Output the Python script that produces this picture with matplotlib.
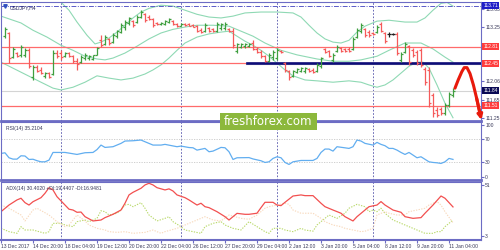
import matplotlib
matplotlib.use("Agg")
import matplotlib.pyplot as plt
import matplotlib.transforms as mtransforms
from matplotlib.patches import Rectangle

plt.rcParams["font.family"] = ["Liberation Sans Narrow", "Liberation Sans", "DejaVu Sans"]

symbol = "USDJPY,H4"

# H4 bars, index 0 = first bar on screen
opens = [113.04, 113.10, 112.58, 112.67, 112.62, 112.62, 112.73, 112.14, 112.36, 112.30,
         112.17, 112.23, 112.21, 112.67, 112.67, 112.60, 112.67, 112.60, 112.49, 112.47,
         112.56, 112.56, 112.54, 112.63, 112.95, 112.87, 112.98, 112.91, 113.04, 113.13,
         113.24, 113.33, 113.37, 113.35, 113.46, 113.52, 113.46, 113.41, 113.33, 113.30,
         113.30, 113.35, 113.37, 113.30, 113.26, 113.31, 113.30, 113.28, 113.26, 113.17,
         113.15, 113.22, 113.19, 113.15, 113.22, 113.22, 113.20, 113.15, 112.71, 112.80,
         112.82, 112.82, 112.89, 112.76, 112.69, 112.60, 112.49, 112.58, 112.56, 112.71,
         112.45, 112.27, 112.17, 112.25, 112.27, 112.27, 112.32, 112.30, 112.27, 112.38,
         112.76, 112.71, 112.52, 112.71, 112.78, 112.76, 112.76, 112.76, 113.02, 113.15,
         113.19, 113.13, 113.11, 113.13, 113.31, 113.11, 113.08, 113.09, 113.09, 112.52,
         112.69, 112.82, 112.73, 112.69, 112.73, 112.32, 112.30, 111.75, 111.42, 111.44,
         111.35, 111.53, 111.75]
highs = [113.24, 113.13, 112.80, 112.69, 112.84, 112.78, 112.78, 112.41, 112.41, 112.36,
         112.25, 112.25, 112.73, 112.73, 112.73, 112.69, 112.69, 112.63, 112.56, 112.63,
         112.67, 112.63, 112.63, 112.80, 113.06, 113.06, 113.00, 113.11, 113.17, 113.33,
         113.39, 113.46, 113.39, 113.50, 113.61, 113.55, 113.50, 113.44, 113.35, 113.35,
         113.39, 113.44, 113.39, 113.33, 113.33, 113.33, 113.33, 113.30, 113.28, 113.22,
         113.33, 113.24, 113.22, 113.35, 113.33, 113.35, 113.22, 113.22, 112.89, 112.89,
         112.89, 112.89, 112.95, 112.80, 112.73, 112.63, 112.67, 112.73, 112.78, 112.73,
         112.47, 112.30, 112.30, 112.34, 112.36, 112.36, 112.34, 112.34, 112.45, 112.58,
         112.78, 112.73, 112.67, 112.84, 112.80, 112.78, 112.80, 113.02, 113.22, 113.33,
         113.22, 113.17, 113.13, 113.28, 113.35, 113.13, 113.13, 113.11, 113.13, 112.69,
         112.91, 112.84, 112.78, 112.73, 112.78, 112.36, 112.36, 111.79, 111.49, 111.49,
         111.57, 111.81, 111.90]
lows = [113.00, 112.45, 112.56, 112.58, 112.58, 112.58, 112.34, 112.08, 112.25, 112.21,
        112.12, 112.12, 112.19, 112.56, 112.52, 112.58, 112.58, 112.45, 112.30, 112.45,
        112.52, 112.52, 112.52, 112.63, 112.80, 112.84, 112.84, 112.89, 113.00, 113.11,
        113.17, 113.28, 113.24, 113.33, 113.44, 113.35, 113.39, 113.24, 113.28, 113.28,
        113.28, 113.33, 113.28, 113.24, 113.26, 113.26, 113.26, 113.24, 113.13, 113.11,
        113.13, 113.13, 113.13, 113.13, 113.17, 113.17, 113.13, 112.78, 112.67, 112.78,
        112.78, 112.80, 112.73, 112.67, 112.56, 112.47, 112.47, 112.52, 112.52, 112.67,
        112.25, 112.08, 112.14, 112.23, 112.25, 112.23, 112.25, 112.23, 112.25, 112.34,
        112.67, 112.58, 112.47, 112.69, 112.69, 112.69, 112.69, 112.73, 113.00, 113.11,
        113.02, 113.02, 113.06, 113.11, 113.13, 112.89, 113.02, 113.06, 112.63, 112.47,
        112.67, 112.41, 112.58, 112.41, 112.36, 111.97, 111.49, 111.27, 111.27, 111.31,
        111.31, 111.49, 111.71]
closes = [113.20, 112.56, 112.76, 112.60, 112.80, 112.73, 112.38, 112.36, 112.28, 112.23,
          112.23, 112.14, 112.67, 112.60, 112.58, 112.67, 112.60, 112.49, 112.43, 112.58,
          112.63, 112.60, 112.63, 112.78, 112.84, 113.02, 112.89, 113.06, 113.15, 113.28,
          113.35, 113.44, 113.28, 113.46, 113.57, 113.39, 113.41, 113.28, 113.30, 113.33,
          113.37, 113.41, 113.30, 113.26, 113.31, 113.28, 113.27, 113.25, 113.15, 113.13,
          113.28, 113.15, 113.15, 113.30, 113.30, 113.31, 113.15, 112.84, 112.87, 112.87,
          112.87, 112.87, 112.76, 112.69, 112.60, 112.49, 112.63, 112.69, 112.73, 112.69,
          112.30, 112.14, 112.27, 112.32, 112.34, 112.34, 112.27, 112.25, 112.41, 112.56,
          112.69, 112.60, 112.63, 112.80, 112.71, 112.71, 112.71, 112.98, 113.17, 113.28,
          113.06, 113.06, 113.09, 113.24, 113.15, 112.93, 113.08, 113.09, 112.67, 112.65,
          112.87, 112.47, 112.63, 112.45, 112.41, 112.03, 111.57, 111.35, 111.31, 111.35,
          111.53, 111.77, 111.84]

# Bollinger bands
bb_upper_x = [-1, 9, 13.5, 16, 18, 20.5, 22.5, 24, 26, 28, 30, 32, 34, 36, 39, 42, 45, 48,
              51, 54, 57, 60, 64, 68, 72, 74, 76, 78, 80, 82, 84, 86, 88, 90, 93, 96, 100,
              103, 105, 107, 109, 110.5, 112]
bb_upper = [114.48, 114.00, 113.83, 113.61, 113.35, 113.06, 112.87, 112.91, 113.00, 113.13,
            113.28, 113.44, 113.57, 113.65, 113.72, 113.70, 113.61, 113.52, 113.46, 113.44,
            113.48, 113.55, 113.57, 113.57, 113.55, 113.46, 113.28, 113.11, 112.98, 112.91,
            112.89, 112.95, 113.13, 113.26, 113.37, 113.39, 113.35, 113.35, 113.44, 113.61,
            113.76, 113.78, 113.70]
bb_mid_x = [-1, 4, 7, 10.5, 14, 17, 20, 23, 25, 27, 30, 33, 36, 39, 42, 45, 48, 52, 56, 59,
            62, 65, 69, 73, 78, 82, 86, 89, 93, 96, 100, 104, 107, 110, 112]
bb_mid = [113.48, 113.33, 113.17, 113.02, 112.84, 112.73, 112.60, 112.54, 112.52, 112.56,
          112.67, 112.82, 112.98, 113.11, 113.19, 113.24, 113.28, 113.28, 113.26, 113.15,
          113.04, 112.89, 112.73, 112.63, 112.54, 112.49, 112.49, 112.52, 112.60, 112.73,
          112.89, 112.89, 112.76, 112.58, 112.47]
bb_lower_x = [-1, 4, 9, 12, 14, 17, 20, 23, 26, 29, 32, 35, 37, 39, 41, 43, 45, 48, 51, 54,
              56, 58, 60, 62, 64, 66, 68, 70, 72, 75, 78, 82, 86, 89, 91, 93, 95, 97, 99,
              101, 103, 104.5, 106, 108, 110, 112]
bb_lower = [112.47, 112.25, 112.03, 111.90, 111.86, 111.92, 112.03, 112.17, 112.12, 112.08,
            112.12, 112.21, 112.30, 112.41, 112.56, 112.73, 112.89, 113.02, 113.09, 113.13,
            113.15, 113.04, 112.93, 112.84, 112.73, 112.60, 112.45, 112.30, 112.17, 112.08,
            112.06, 112.03, 112.06, 112.03, 111.97, 111.92, 111.97, 112.08, 112.23, 112.38,
            112.47, 112.47, 112.34, 111.97, 111.57, 111.25]

# RSI(14)
rsi_x = [-1, 0, 1, 2, 3, 4, 5, 6, 7, 8, 9, 10, 11, 12, 15, 16, 18, 20, 22, 23, 24, 25, 27,
         29, 30, 32, 34, 35, 37, 39, 40, 43, 44, 46, 47, 48, 50, 51, 52, 54, 55, 56, 57, 58,
         61, 62, 64, 65, 66, 67, 68, 69, 70, 71, 72, 74, 77, 78, 79, 80, 81, 82, 83, 85, 86,
         87, 88, 89, 90, 92, 93, 94, 95, 96, 97, 98, 99, 100, 101, 102, 103, 104, 106, 107,
         108, 109, 110, 111, 112]
rsi = [45.4, 46.5, 38.0, 35.7, 35.7, 41.4, 41.0, 35.1, 35.5, 33.0, 31.1, 31.1, 34.0, 47.1,
       47.1, 46.0, 43.7, 46.6, 47.1, 52.0, 59.7, 55.7, 56.9, 62.6, 66.6, 67.1, 68.3, 65.4,
       59.7, 59.7, 60.9, 56.9, 58.0, 55.5, 55.1, 51.1, 54.0, 48.3, 49.4, 55.7, 55.1, 48.3,
       35.1, 38.0, 38.3, 36.0, 32.9, 30.0, 31.1, 36.9, 39.7, 38.0, 30.0, 26.6, 31.1, 33.4,
       33.4, 36.9, 47.1, 52.9, 52.9, 49.4, 56.9, 55.0, 54.0, 56.9, 68.3, 66.6, 62.6, 59.7,
       64.3, 60.9, 58.6, 54.0, 54.0, 51.1, 47.1, 43.7, 47.1, 42.6, 38.0, 39.7, 31.1, 30.0,
       29.4, 28.3, 31.1, 36.9, 35.2]

# ADX(14) with +DI / -DI
adx_x = [-1, 1, 3, 4, 5, 6, 7, 9, 10, 11, 12, 13, 15, 16, 17, 18, 19, 20, 22, 24, 25, 27,
         29, 30, 31, 32, 34, 35, 36, 37, 38, 40, 41, 42, 43, 45, 46, 48, 49, 50, 51, 53, 55,
         56, 57, 58, 60, 61, 63, 64, 65, 67, 68, 69, 70, 72, 74, 75, 77, 79, 80, 82, 84, 85,
         87, 88, 90, 91, 93, 94, 95, 97, 99, 100, 102, 104, 105, 107, 109, 110, 112]
adx = [26.4, 32.0, 36.3, 37.7, 34.0, 32.0, 34.8, 38.2, 41.9, 46.6, 44.7, 39.0, 32.0, 28.5,
       27.8, 25.9, 26.1, 22.2, 18.6, 19.4, 21.4, 24.2, 27.8, 33.5, 40.5, 42.7, 46.1, 48.9,
       50.3, 48.9, 46.6, 44.7, 45.6, 43.8, 40.5, 38.2, 36.3, 32.0, 33.5, 30.6, 29.8, 26.4,
       22.2, 19.4, 22.2, 25.0, 24.2, 24.2, 25.1, 29.8, 34.3, 34.3, 32.0, 31.5, 34.3, 39.6,
       40.5, 39.9, 39.9, 33.5, 30.6, 27.8, 25.1, 22.2, 18.6, 22.2, 27.8, 30.6, 32.0, 34.9,
       32.0, 27.8, 25.9, 22.2, 20.8, 21.4, 25.1, 32.0, 39.6, 37.7, 30.4]
pdi_x = [-1, 1, 3, 4, 5, 7, 10, 11, 12, 14, 15, 17, 18, 20, 21, 23, 24, 25, 26, 28, 29, 30,
         31, 32, 34, 35, 36, 38, 40, 41, 42, 44, 45, 47, 49, 50, 52, 54, 55, 57, 59, 61, 63,
         65, 66, 67, 69, 70, 72, 74, 75, 77, 78, 80, 81, 83, 85, 86, 88, 90, 91, 92, 93, 94,
         95, 97, 99, 100, 102, 104, 105, 107, 108, 109, 110, 112]
pdi = [12.4, 9.6, 8.2, 13.8, 11.0, 11.0, 8.2, 9.6, 16.6, 16.6, 15.2, 13.8, 18.0, 19.4, 18.0,
       20.8, 27.2, 26.4, 23.6, 25.1, 27.8, 32.0, 32.6, 30.6, 34.0, 29.3, 23.6, 18.6, 20.8,
       22.2, 18.0, 13.8, 11.0, 9.6, 8.2, 13.8, 16.6, 18.0, 15.2, 12.4, 11.0, 18.0, 13.8, 9.6,
       8.2, 12.4, 12.4, 11.0, 9.6, 12.4, 11.0, 10.0, 15.2, 20.8, 23.6, 20.8, 25.1, 29.3, 32.6,
       30.6, 26.4, 27.8, 26.4, 29.3, 25.1, 19.4, 16.6, 15.2, 12.4, 9.6, 8.2, 8.2, 9.6, 9.6,
       13.8, 19.4]
mdi_x = [-1, 1, 4, 5, 7, 8, 11, 13, 15, 16, 18, 20, 21, 23, 25, 26, 28, 30, 32, 35, 37, 39,
         40, 43, 45, 47, 49, 50, 52, 54, 56, 59, 61, 63, 65, 66, 68, 70, 71, 72, 74, 77, 79,
         80, 82, 84, 85, 87, 89, 90, 92, 93, 95, 96, 98, 100, 101, 103, 105, 106, 108, 109,
         110, 112]
mdi = [32.0, 29.3, 23.6, 18.6, 27.8, 29.3, 23.6, 18.0, 13.8, 15.2, 23.6, 18.6, 15.2, 12.4,
       11.0, 9.6, 9.0, 9.6, 8.2, 9.0, 11.0, 8.2, 9.6, 12.4, 15.2, 18.0, 20.8, 22.2, 19.4, 18.6,
       23.6, 20.8, 20.0, 23.6, 29.3, 30.6, 32.0, 33.5, 32.6, 27.8, 25.1, 25.1, 20.8, 18.0,
       15.2, 13.8, 12.4, 11.0, 9.6, 10.0, 12.4, 23.6, 26.4, 25.1, 23.6, 23.6, 26.4, 27.8,
       29.3, 32.0, 34.9, 32.0, 26.4, 17.0]

red_levels = [112.81, 112.45, 111.51]
support_level = 112.45
support_start = 60.5
top_level = 113.71
last_price = 111.84
separators = [14, 44, 68, 92]
price_ticks = [113.63, 113.25, 112.06, 111.65, 111.25]

forecast_x = [112.5, 113.3, 114.2, 114.8, 115.5, 116.25, 117.1, 117.9, 118.75]
forecast_y = [111.90, 112.08, 112.26, 112.35, 112.35, 112.22, 111.97, 111.68, 111.35]
forecast_tip = (119.1, 111.20)

date_pos = [-1, 7, 15, 23, 31, 39, 47, 55, 63, 71, 79, 87, 95, 103, 111]
date_labels = ["13 Dec 2017", "14 Dec 20:00", "18 Dec 04:00", "19 Dec 12:00",
               "20 Dec 20:00", "22 Dec 04:00", "26 Dec 12:00", "27 Dec 20:00",
               "29 Dec 04:00", "2 Jan 12:00", "3 Jan 20:00", "5 Jan 04:00",
               "8 Jan 12:00", "9 Jan 20:00", "11 Jan 04:00"]

FRAME = "#6c6cc4"
GREEN = "#3f9f3f"
RED = "#f55a5a"
BAND = "#8fd9b4"
TXT = "#3a3a5a"
FS = 3.6

fig = plt.figure(figsize=(5, 2.5), dpi=100)
W, H = 500.0, 250.0
ax = fig.add_axes([1 / W, 1 - 120.5 / H, 480 / W, 118.5 / H])
ax_rsi = fig.add_axes([1 / W, 1 - 180 / H, 480 / W, 58.5 / H])
ax_adx = fig.add_axes([1 / W, 1 - 239.5 / H, 480 / W, 58 / H])

for a in (ax, ax_rsi, ax_adx):
    a.set_xlim(-1, 119)
    for s in a.spines.values():
        s.set_color(FRAME)
        s.set_linewidth(0.8)
    a.yaxis.tick_right()
    a.tick_params(axis="y", labelsize=FS, length=2, pad=1, colors=FRAME, labelcolor=TXT)
    for sx in separators:
        a.axvline(sx, color="#5050a8", lw=0.6, ls=(0, (2, 2)), zorder=1)
for a in (ax, ax_rsi):
    a.set_xticks([])
    a.spines["bottom"].set_linewidth(2)
ax_adx.spines["bottom"].set_linewidth(1.5)

# ---- price panel
ax.set_ylim(111.19, 113.79)
n = len(closes)
xs = list(range(n))
cols = [GREEN if c > o else (RED if c < o else "#202020") for o, c in zip(opens, closes)]
ax.plot(bb_upper_x, bb_upper, color=BAND, lw=0.8, zorder=2)
ax.plot(bb_mid_x, bb_mid, color=BAND, lw=0.8, zorder=2)
ax.plot(bb_lower_x, bb_lower, color=BAND, lw=0.8, zorder=2)

for lv in red_levels:
    ax.axhline(lv, color="#ff6b6b", lw=0.9, zorder=2)
ax.axhline(last_price, color="#d4d4d4", lw=0.8, zorder=1)
ax.axhline(top_level, color="#5a5ac8", lw=0.7, ls=(0, (5, 1.5, 1, 1.5)), zorder=2)
ax.plot([support_start, 119], [support_level - 0.025] * 2, color="#b0b0b0", lw=1.6, alpha=0.6, zorder=3)
ax.plot([support_start, 119], [support_level] * 2, color="#0c0c78", lw=1.9, zorder=4)

ax.vlines(xs, lows, highs, colors=cols, lw=0.9, zorder=5)
ax.hlines(opens, [x - 0.45 for x in xs], xs, colors=cols, lw=0.9, zorder=5)
ax.hlines(closes, xs, [x + 0.45 for x in xs], colors=cols, lw=0.9, zorder=5)

ax.plot(forecast_x, forecast_y, color="#e81a0c", lw=2.2, solid_capstyle="round", zorder=6)
ax.annotate("", xy=forecast_tip, xytext=(forecast_x[-2], forecast_y[-2]),
            arrowprops=dict(arrowstyle="-|>", color="#e81a0c", lw=2.2, mutation_scale=7,
                            shrinkA=0, shrinkB=0),
            annotation_clip=False, zorder=6)

ax.set_yticks(price_ticks)
ax.set_yticklabels([f"{v:.2f}" for v in price_ticks])
tr = mtransforms.blended_transform_factory(ax.transAxes, ax.transData)
boxes = [(top_level, "#1e1ec8"), (112.81, "#ff3c3c"), (112.45, "#ff3c3c"),
         (last_price, "#0a0a55"), (111.51, "#ff3c3c")]
for v, c in boxes:
    ax.text(1.005, v, f"{v:.2f}", transform=tr, fontsize=FS, color="white", va="center",
            ha="left", clip_on=False, zorder=10,
            bbox=dict(boxstyle="square,pad=0.2", fc=c, ec="none"))
ax.text(0.018, 0.975, symbol, transform=ax.transAxes, fontsize=FS, color="#20205a",
        va="top", ha="left")
ax.plot([0.008], [0.965], transform=ax.transAxes, marker="v", ms=2.5, color="#3050c0",
        clip_on=False)

# ---- RSI panel
ax_rsi.set_ylim(0, 100)
for lv in (70, 30):
    ax_rsi.axhline(lv, color="#c8c8c8", lw=0.6, ls=(0, (1.5, 1.5)))
ax_rsi.plot(rsi_x, rsi, color="#62aef0", lw=0.9)
ax_rsi.set_yticks([94, 70, 30, 5])
ax_rsi.set_yticklabels(["100", "70", "30", "0"])
ax_rsi.text(0.01, 0.93, "RSI(14) 35.2104", transform=ax_rsi.transAxes, fontsize=FS,
            color=TXT, va="top", ha="left")

# ---- ADX panel
ax_adx.set_ylim(3, 51.8)
ax_adx.plot(pdi_x, pdi, color="#b9d96a", lw=0.8, ls=(0, (1.2, 1.2)))
ax_adx.plot(mdi_x, mdi, color="#f8d9bc", lw=0.8, ls=(0, (1.2, 1.2)))
ax_adx.plot(adx_x, adx, color="#f25050", lw=0.9)
ax_adx.set_yticks([48.9, 5.9])
ax_adx.set_yticklabels(["51", "3"])
ax_adx.text(0.01, 0.93, "ADX(14) 30.4020 +DI:19.4407 -DI:16.9481", transform=ax_adx.transAxes,
            fontsize=FS, color=TXT, va="top", ha="left")
ax_adx.set_xticks(date_pos)
ax_adx.set_xticklabels(date_labels, ha="left")
ax_adx.tick_params(axis="x", labelsize=FS, length=2, pad=1.5, colors=FRAME, labelcolor=TXT)

# ---- watermark
fig.add_artist(Rectangle((220 / W, 1 - 130 / H), 97 / W, 17 / H, transform=fig.transFigure,
                         facecolor="#8cb83c", edgecolor="none", zorder=20))
fig.text(268.5 / W, 1 - 121.5 / H, "freshforex.com", ha="center", va="center",
         color="white", fontsize=8.5, family="DejaVu Sans", zorder=21)

fig.savefig("out.png", dpi=100, facecolor="white")
